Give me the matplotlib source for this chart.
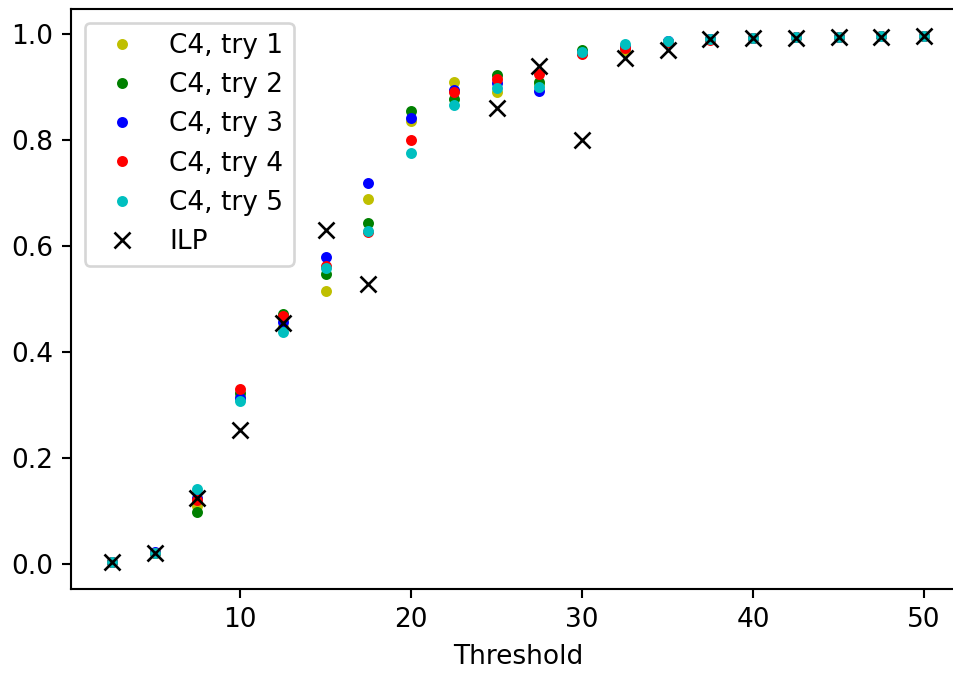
import numpy as np
import matplotlib
matplotlib.use("Agg")
import matplotlib.pyplot as plt

thresholds = [2.5, 5, 7.5, 10, 12.5, 15, 17.5, 20, 22.5, 25, 27.5, 30,
              32.5, 35, 37.5, 40, 42.5, 45, 47.5, 50]

try1 = [0.003, 0.021, 0.109, 0.315, 0.448, 0.515, 0.689, 0.835, 0.909, 0.891,
        0.905, 0.964, 0.970, 0.985, 0.991, 0.993, 0.994, 0.995, 0.996, 0.997]
try2 = [0.003, 0.021, 0.098, 0.322, 0.472, 0.548, 0.644, 0.855, 0.877, 0.923,
        0.909, 0.970, 0.975, 0.985, 0.991, 0.993, 0.994, 0.995, 0.996, 0.997]
try3 = [0.003, 0.022, 0.125, 0.313, 0.457, 0.580, 0.718, 0.841, 0.894, 0.907,
        0.892, 0.965, 0.976, 0.987, 0.991, 0.993, 0.994, 0.995, 0.996, 0.997]
try4 = [0.003, 0.021, 0.121, 0.330, 0.468, 0.562, 0.626, 0.800, 0.890, 0.916,
        0.924, 0.962, 0.973, 0.985, 0.988, 0.993, 0.994, 0.995, 0.996, 0.997]
try5 = [0.003, 0.020, 0.141, 0.308, 0.437, 0.558, 0.628, 0.776, 0.867, 0.899,
        0.901, 0.966, 0.981, 0.986, 0.991, 0.993, 0.994, 0.995, 0.996, 0.997]
ilp = [0.003, 0.020, 0.124, 0.252, 0.455, 0.631, 0.528, np.nan, np.nan, 0.860,
       0.940, 0.800, 0.954, 0.970, 0.991, 0.992, 0.993, 0.994, 0.995, 0.996]

tries = [try1, try2, try3, try4, try5]
colors = ["y", "g", "b", "r", "c"]

DPI = 190
fig = plt.figure(figsize=(953 / DPI, 675 / DPI), dpi=DPI)
ax = fig.add_axes([0.0749, 0.1279, 0.9373, 0.8583])

for i, (vals, color) in enumerate(zip(tries, colors)):
    ax.plot(thresholds, vals, linestyle="none", marker=".", markersize=6.3,
            color=color, label=f"C4, try {i + 1}")
ax.plot(thresholds, ilp, linestyle="none", marker="x", markersize=6.3,
        color="k", label="ILP")

ax.set_xlabel("Threshold")
ax.legend(loc="upper left")

fig.savefig("out.png", dpi=DPI)
plt.close(fig)
